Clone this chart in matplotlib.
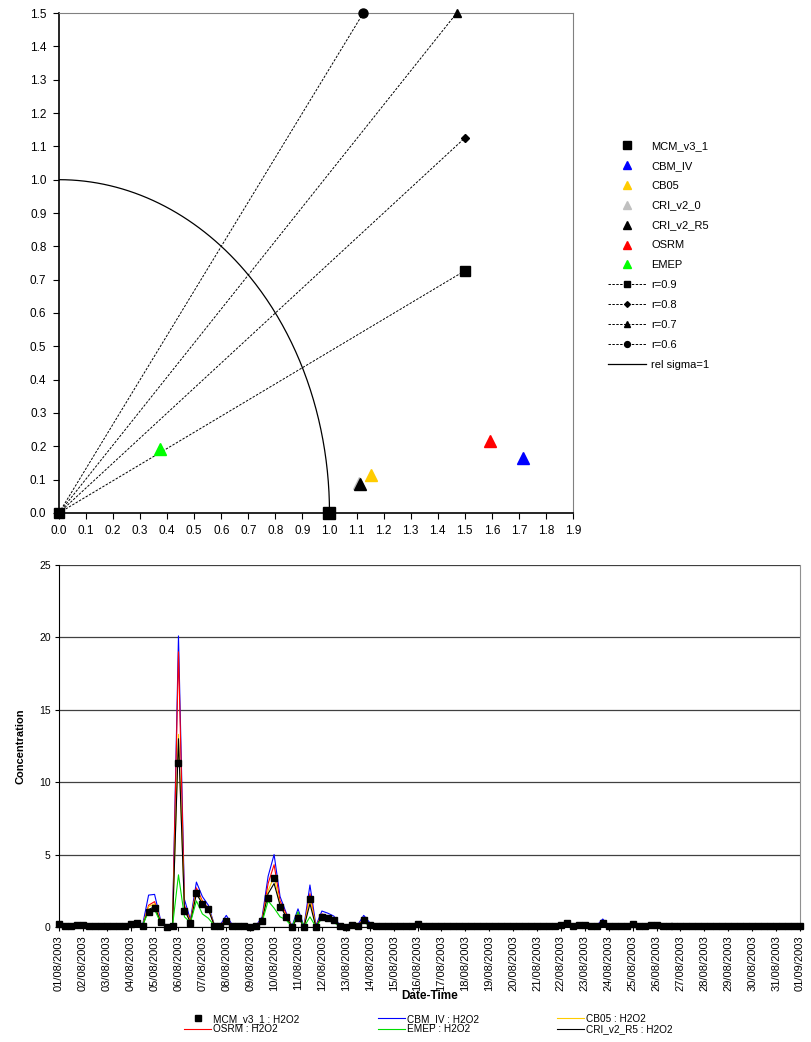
"""Taylor diagram + H2O2 time series, Excel-style layout."""
import matplotlib
matplotlib.use('Agg')
import matplotlib.pyplot as plt
import matplotlib.dates as mdates
from matplotlib.ticker import MultipleLocator, FormatStrFormatter
import numpy as np
import pandas as pd

plt.rcParams['font.family'] = ['Liberation Sans', 'DejaVu Sans']

# ── Data: Taylor diagram ──────────────────────────────────────
models   = ['MCM_v3_1', 'CBM_IV', 'CB05', 'CRI_v2_0', 'CRI_v2_R5', 'OSRM', 'EMEP']
tay_x    = [1.0, 1.716, 1.153, 1.108, 1.113, 1.593, 0.375]
tay_y    = [0.0, 0.165, 0.114, 0.091, 0.088, 0.217, 0.192]
m_colors = ['#000000', '#0000FF', '#FFCC00', '#C0C0C0', '#000000', '#FF0000', '#00FF00']
m_marks  = ['s', '^', '^', '^', '^', '^', '^']
m_sizes  = [9, 8, 8, 8, 8, 8, 8]

r_vals  = [0.9, 0.8, 0.7, 0.6]
r_marks = ['s', 'D', '^', 'o']
r_sizes = [6.5, 4.5, 6, 6.5]

# ── Data: H2O2 time series (6-hourly, 01/08/2003 - 01/09/2003) ─
mcm = [0.2, 0.05, 0.05, 0.15, 0.15, 0.1, 0.1, 0.05, 0.05, 0.05,
       0.05, 0.1, 0.2, 0.3, 0.1, 1.0, 1.3, 0.37, 0.0, 0.05,
       11.3, 1.1, 0.3, 2.37, 1.57, 1.22, 0.1, 0.1, 0.4, 0.1,
       0.1, 0.1, 0.0, 0.05, 0.43, 2.0, 3.36, 1.4, 0.71, 0.0,
       0.6, 0.0, 1.93, 0.0, 0.71, 0.6, 0.45, 0.05, 0.0, 0.15,
       0.1, 0.45, 0.12, 0.1, 0.05, 0.05, 0.05, 0.05, 0.05, 0.05,
       0.2, 0.05, 0.05, 0.05, 0.05, 0.05, 0.05, 0.05, 0.05, 0.05,
       0.05, 0.05, 0.05, 0.05, 0.1, 0.1, 0.05, 0.05, 0.05, 0.05,
       0.05, 0.05, 0.05, 0.1, 0.15, 0.25, 0.1, 0.15, 0.15, 0.1,
       0.1, 0.3, 0.05, 0.05, 0.05, 0.05, 0.2, 0.1, 0.05, 0.15,
       0.15, 0.05, 0.05, 0.05, 0.05, 0.05, 0.05, 0.05, 0.05, 0.05,
       0.05, 0.05, 0.1, 0.05, 0.05, 0.05, 0.05, 0.05, 0.05, 0.05,
       0.05, 0.05, 0.05, 0.05, 0.05]
cbm = [0.2, 0.05, 0.05, 0.15, 0.15, 0.1, 0.1, 0.05, 0.05, 0.05,
       0.05, 0.1, 0.25, 0.3, 0.15, 2.2, 2.25, 0.5, 0.05, 0.1,
       20.1, 1.9, 0.5, 3.1, 2.1, 1.5, 0.15, 0.15, 0.8, 0.15,
       0.1, 0.1, 0.05, 0.1, 0.7, 3.5, 5.0, 2.1, 1.0, 0.05,
       1.25, 0.05, 2.9, 0.1, 1.1, 0.95, 0.75, 0.1, 0.05, 0.2,
       0.15, 0.8, 0.3, 0.1, 0.05, 0.05, 0.05, 0.05, 0.05, 0.05,
       0.25, 0.05, 0.05, 0.05, 0.05, 0.05, 0.05, 0.05, 0.05, 0.05,
       0.05, 0.05, 0.05, 0.05, 0.1, 0.1, 0.05, 0.05, 0.05, 0.05,
       0.05, 0.05, 0.05, 0.1, 0.15, 0.3, 0.1, 0.15, 0.15, 0.1,
       0.1, 0.55, 0.05, 0.05, 0.05, 0.05, 0.2, 0.1, 0.05, 0.15,
       0.15, 0.05, 0.05, 0.05, 0.05, 0.05, 0.05, 0.05, 0.05, 0.05,
       0.05, 0.05, 0.1, 0.05, 0.05, 0.05, 0.05, 0.05, 0.05, 0.05,
       0.05, 0.05, 0.05, 0.05, 0.05]
cb05 = [0.2, 0.05, 0.05, 0.15, 0.15, 0.1, 0.1, 0.05, 0.05, 0.05,
        0.05, 0.1, 0.2, 0.3, 0.1, 1.4, 1.6, 0.4, 0.0, 0.05,
        13.3, 1.3, 0.35, 2.5, 1.7, 1.3, 0.1, 0.1, 0.45, 0.1,
        0.1, 0.1, 0.0, 0.05, 0.5, 2.5, 3.5, 1.5, 0.8, 0.0,
        0.8, 0.0, 2.0, 0.0, 0.8, 0.7, 0.5, 0.05, 0.0, 0.15,
        0.1, 0.5, 0.15, 0.1, 0.05, 0.05, 0.05, 0.05, 0.05, 0.05,
        0.2, 0.05, 0.05, 0.05, 0.05, 0.05, 0.05, 0.05, 0.05, 0.05,
        0.05, 0.05, 0.05, 0.05, 0.1, 0.1, 0.05, 0.05, 0.05, 0.05,
        0.05, 0.05, 0.05, 0.1, 0.15, 0.25, 0.1, 0.15, 0.15, 0.1,
        0.1, 0.35, 0.05, 0.05, 0.05, 0.05, 0.2, 0.1, 0.05, 0.15,
        0.15, 0.05, 0.05, 0.05, 0.05, 0.05, 0.05, 0.05, 0.05, 0.05,
        0.05, 0.05, 0.1, 0.05, 0.05, 0.05, 0.05, 0.05, 0.05, 0.05,
        0.05, 0.05, 0.05, 0.05, 0.05]
osrm = [0.2, 0.05, 0.05, 0.15, 0.15, 0.1, 0.1, 0.05, 0.05, 0.05,
        0.05, 0.1, 0.2, 0.3, 0.1, 1.5, 1.75, 0.4, 0.0, 0.05,
        19.0, 1.5, 0.4, 2.7, 1.8, 1.3, 0.1, 0.1, 0.55, 0.1,
        0.1, 0.1, 0.0, 0.05, 0.55, 3.0, 4.3, 1.8, 0.9, 0.0,
        0.9, 0.0, 2.3, 0.0, 0.9, 0.75, 0.6, 0.05, 0.0, 0.15,
        0.1, 0.55, 0.15, 0.1, 0.05, 0.05, 0.05, 0.05, 0.05, 0.05,
        0.2, 0.05, 0.05, 0.05, 0.05, 0.05, 0.05, 0.05, 0.05, 0.05,
        0.05, 0.05, 0.05, 0.05, 0.1, 0.1, 0.05, 0.05, 0.05, 0.05,
        0.05, 0.05, 0.05, 0.1, 0.15, 0.25, 0.1, 0.15, 0.15, 0.1,
        0.1, 0.4, 0.05, 0.05, 0.05, 0.05, 0.2, 0.1, 0.05, 0.15,
        0.15, 0.05, 0.05, 0.05, 0.05, 0.05, 0.05, 0.05, 0.05, 0.05,
        0.05, 0.05, 0.1, 0.05, 0.05, 0.05, 0.05, 0.05, 0.05, 0.05,
        0.05, 0.05, 0.05, 0.05, 0.05]
emep = [0.2, 0.05, 0.05, 0.15, 0.15, 0.1, 0.1, 0.05, 0.05, 0.05,
        0.05, 0.1, 0.2, 0.25, 0.1, 1.1, 1.2, 0.3, 0.0, 0.05,
        3.6, 0.7, 0.3, 1.8, 0.9, 0.6, 0.1, 0.1, 0.3, 0.1,
        0.1, 0.1, 0.0, 0.05, 0.35, 1.8, 1.3, 0.7, 0.5, 0.0,
        1.05, 0.0, 0.7, 0.0, 0.6, 0.45, 0.3, 0.05, 0.0, 0.1,
        0.1, 0.3, 0.1, 0.1, 0.05, 0.05, 0.05, 0.05, 0.05, 0.05,
        0.15, 0.05, 0.05, 0.05, 0.05, 0.05, 0.05, 0.05, 0.05, 0.05,
        0.05, 0.05, 0.05, 0.05, 0.1, 0.1, 0.05, 0.05, 0.05, 0.05,
        0.05, 0.05, 0.05, 0.1, 0.15, 0.2, 0.1, 0.15, 0.15, 0.1,
        0.1, 0.25, 0.05, 0.05, 0.05, 0.05, 0.15, 0.1, 0.05, 0.1,
        0.1, 0.05, 0.05, 0.05, 0.05, 0.05, 0.05, 0.05, 0.05, 0.05,
        0.05, 0.05, 0.1, 0.05, 0.05, 0.05, 0.05, 0.05, 0.05, 0.05,
        0.05, 0.05, 0.05, 0.05, 0.05]
cri = [0.2, 0.05, 0.05, 0.15, 0.15, 0.1, 0.1, 0.05, 0.05, 0.05,
       0.05, 0.1, 0.2, 0.3, 0.1, 1.2, 1.4, 0.37, 0.0, 0.05,
       13.0, 1.2, 0.3, 2.3, 1.6, 1.2, 0.1, 0.1, 0.4, 0.1,
       0.1, 0.1, 0.0, 0.05, 0.45, 2.3, 3.0, 1.5, 0.7, 0.0,
       0.7, 0.0, 1.6, 0.0, 0.75, 0.6, 0.45, 0.05, 0.0, 0.15,
       0.1, 0.45, 0.12, 0.1, 0.05, 0.05, 0.05, 0.05, 0.05, 0.05,
       0.2, 0.05, 0.05, 0.05, 0.05, 0.05, 0.05, 0.05, 0.05, 0.05,
       0.05, 0.05, 0.05, 0.05, 0.1, 0.1, 0.05, 0.05, 0.05, 0.05,
       0.05, 0.05, 0.05, 0.1, 0.15, 0.25, 0.1, 0.15, 0.15, 0.1,
       0.1, 0.3, 0.05, 0.05, 0.05, 0.05, 0.2, 0.1, 0.05, 0.15,
       0.15, 0.05, 0.05, 0.05, 0.05, 0.05, 0.05, 0.05, 0.05, 0.05,
       0.05, 0.05, 0.1, 0.05, 0.05, 0.05, 0.05, 0.05, 0.05, 0.05,
       0.05, 0.05, 0.05, 0.05, 0.05]
times = pd.date_range('2003-08-01', periods=len(mcm), freq='6h')

fig = plt.figure(figsize=(8.11, 10.42), dpi=100, facecolor='white')

# ── Top: Taylor-style diagram ─────────────────────────────────
ax = fig.add_axes([0.0727, 0.5077, 0.6338, 0.4798])
XMAX, YMAX = 1.9, 1.5

for name, x, y, c, mk, ms in zip(models, tay_x, tay_y, m_colors, m_marks, m_sizes):
    ax.plot([x], [y], linestyle='none', marker=mk, color=c, markersize=ms,
            label=name, clip_on=False, zorder=5)

for r, mk, ms in zip(r_vals, r_marks, r_sizes):
    ang = np.arccos(r)
    # end where the ray leaves the 1.5 x 1.5 box
    t = min(1.5 / np.cos(ang), YMAX / np.sin(ang))
    ax.plot([0, t * np.cos(ang)], [0, t * np.sin(ang)], color='black', lw=0.7,
            linestyle=(0, (2.5, 1.5)), marker=mk, markersize=ms,
            label=f'r={r}', clip_on=False, zorder=4)

th = np.linspace(0, np.pi / 2, 200)
ax.plot(np.cos(th), np.sin(th), color='black', lw=0.9, label='rel sigma=1')

ax.set_xlim(0, XMAX); ax.set_ylim(0, YMAX)
ax.xaxis.set_major_locator(MultipleLocator(0.1))
ax.yaxis.set_major_locator(MultipleLocator(0.1))
ax.xaxis.set_major_formatter(FormatStrFormatter('%.1f'))
ax.yaxis.set_major_formatter(FormatStrFormatter('%.1f'))
ax.tick_params(direction='out', length=4, width=0.8, labelsize=8.5, pad=5)
for sp in ['top', 'right']:
    ax.spines[sp].set_color('#808080')
for sp in ['left', 'bottom']:
    ax.spines[sp].set_color('black'); ax.spines[sp].set_linewidth(1.2)

ax.legend(loc='upper left', bbox_to_anchor=(0.744, 0.869), bbox_transform=fig.transFigure,
          frameon=False, fontsize=8, numpoints=1, markerscale=0.65,
          handlelength=3.4, handletextpad=0.5, labelspacing=0.89, borderaxespad=0)

# ── Bottom: time series ───────────────────────────────────────
bx = fig.add_axes([0.0727, 0.1104, 0.9137, 0.3474])
l_cbm, = bx.plot(times, cbm, color='#0000FF', lw=0.8, label='CBM_IV : H2O2')
l_osrm, = bx.plot(times, osrm, color='#FF0000', lw=0.8, label='OSRM : H2O2')
l_cb05, = bx.plot(times, cb05, color='#FFCC00', lw=0.8, label='CB05 : H2O2')
l_cri, = bx.plot(times, cri, color='black', lw=0.8, label='CRI_v2_R5 : H2O2')
l_emep, = bx.plot(times, emep, color='#00DD00', lw=0.8, label='EMEP : H2O2')
l_mcm, = bx.plot(times, mcm, linestyle='none', marker='s', color='black',
                 markersize=4.5, label='MCM_v3_1 : H2O2', clip_on=False, zorder=6)

bx.set_xlim(pd.Timestamp('2003-08-01'), pd.Timestamp('2003-09-01'))
bx.set_ylim(0, 25)
bx.yaxis.set_major_locator(MultipleLocator(5))
bx.xaxis.set_major_locator(mdates.DayLocator())
bx.xaxis.set_major_formatter(mdates.DateFormatter('%d/%m/%Y'))
bx.tick_params(axis='x', direction='out', length=3, labelsize=8, rotation=90, pad=3)
bx.tick_params(axis='y', direction='out', length=3, labelsize=7.5, pad=3)
bx.yaxis.grid(True, color='#404040', lw=0.9)
bx.set_axisbelow(True)
bx.spines['top'].set_visible(False)
bx.spines['right'].set_color('#909090')
bx.spines['left'].set_color('black'); bx.spines['bottom'].set_color('black')

bx.set_ylabel('Concentration', fontsize=8, fontweight='bold')
bx.yaxis.set_label_coords(-0.045, 0.5)
bx.set_xlabel('Date-Time', fontsize=8.5, fontweight='bold')
bx.xaxis.set_label_coords(0.5, -0.175)

handles = [l_mcm, l_osrm, l_cbm, l_emep, l_cb05, l_cri]
fig.legend(handles=handles, loc='upper center', bbox_to_anchor=(0.528, 0.031),
           ncol=3, frameon=False, fontsize=7.2, numpoints=1, handlelength=2.7,
           handletextpad=0.2, columnspacing=7.8, labelspacing=0.05, borderaxespad=0)

fig.savefig('out.png', dpi=100, facecolor='white')
